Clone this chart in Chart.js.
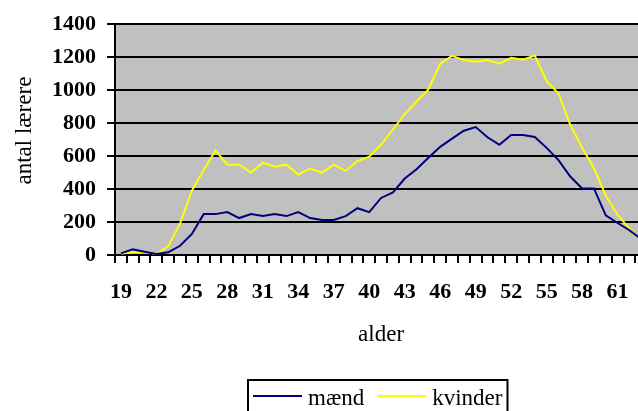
<!DOCTYPE html>
<html>
<head>
<meta charset="utf-8">
<script src="https://cdn.jsdelivr.net/npm/chart.js@4.4.1/dist/chart.umd.min.js"></script>
<style>
  html, body { margin: 0; padding: 0; background: #fff; overflow: hidden; }
  #wrap { width: 660px; height: 411px; }
</style>
</head>
<body>
<div id="wrap"><canvas id="chart"></canvas></div>
<script>
// Aldre (x-akse)
const ages = [19, 20, 21, 22, 23, 24, 25, 26, 27, 28, 29, 30, 31, 32, 33, 34, 35, 36, 37, 38, 39, 40,
    41, 42, 43, 44, 45, 46, 47, 48, 49, 50, 51, 52, 53, 54, 55, 56, 57, 58, 59, 60, 61, 62, 63];

// Antal lærere, mænd
const maend = [10, 34, 20, 6, 16, 56, 128, 248, 248, 260, 224, 248, 236, 248, 236, 260, 224, 212, 212, 236, 284, 260,
    346, 380, 464, 520, 590, 656, 706, 754, 776, 714, 668, 728, 728, 716, 650, 576, 476, 404, 404, 240, 194, 150, 96];

// Antal lærere, kvinder
const kvinder = [8, 18, 20, 6, 54, 190, 390, 516, 634, 548, 548, 500, 560, 536, 548, 488, 524, 500, 548, 510, 570, 596,
    670, 760, 854, 930, 1004, 1160, 1208, 1182, 1172, 1182, 1160, 1196, 1184, 1210, 1054, 980, 790, 650, 526, 360, 244, 160, 90];

const yTicks = [0, 200, 400, 600, 800, 1000, 1200, 1400];
const yTitle = 'antal lærere';

const SERIF = '"Liberation Serif", "Times New Roman", serif';
const TICK = 8;

// grå plotbaggrund
const plotBackground = {
    id: 'plotBackground',
    beforeDatasetsDraw(chart) {
        const { ctx, chartArea: a } = chart;
        ctx.save();
        ctx.globalCompositeOperation = 'destination-over';
        ctx.fillStyle = '#c0c0c0';
        ctx.fillRect(a.left, a.top, a.right - a.left, a.bottom - a.top);
        ctx.restore();
    }
};

// y-aksens titel, lidt over midten som i forlægget
const yAxisTitle = {
    id: 'yAxisTitle',
    afterDraw(chart) {
        const { ctx, chartArea: a } = chart;
        ctx.save();
        ctx.font = '23px ' + SERIF;
        ctx.fillStyle = '#000';
        ctx.textAlign = 'center';
        ctx.textBaseline = 'middle';
        ctx.translate(25, (a.top + a.bottom) / 2 - 9);
        ctx.rotate(-Math.PI / 2);
        ctx.fillText(yTitle, 0, 0);
        ctx.restore();
    }
};

// legende med ramme, under aksetitlen
const boxLegend = {
    id: 'boxLegend',
    afterDraw(chart) {
        const { ctx } = chart;
        const items = chart.data.datasets;
        ctx.save();
        ctx.font = '23px ' + SERIF;
        const lineLen = 49, gapLine = 6, gapItem = 13, pad = 5;
        let total = pad * 2;
        items.forEach((d, i) => {
            total += lineLen + gapLine + ctx.measureText(d.label).width;
            if (i < items.length - 1) total += gapItem;
        });
        const left = 248;
        const top = 380, midY = 396;
        ctx.strokeStyle = '#000';
        ctx.lineWidth = 2;
        ctx.strokeRect(left, top, total, 44);

        let x = left + pad;
        ctx.textBaseline = 'alphabetic';
        ctx.fillStyle = '#000';
        items.forEach(d => {
            ctx.strokeStyle = d.borderColor;
            ctx.lineWidth = 2;
            ctx.beginPath();
            ctx.moveTo(x, midY);
            ctx.lineTo(x + lineLen, midY);
            ctx.stroke();
            x += lineLen + gapLine;
            ctx.fillText(d.label, x, 405);
            x += ctx.measureText(d.label).width + gapItem;
        });
        ctx.restore();
    }
};

new Chart(document.getElementById('chart'), {
    type: 'line',
    data: {
        labels: ages,
        datasets: [
            {
                label: 'mænd',
                data: maend,
                borderColor: '#000080',
                borderWidth: 2,
                pointRadius: 0
            },
            {
                label: 'kvinder',
                data: kvinder,
                borderColor: '#ffff00',
                borderWidth: 2,
                pointRadius: 0
            }
        ]
    },
    options: {
        responsive: true,
        maintainAspectRatio: false,
        animation: false,
        layout: { padding: { top: 21, left: 0, right: 0, bottom: 62 } },
        plugins: {
            legend: { display: false },
            tooltip: { enabled: false }
        },
        scales: {
            x: {
                offset: true,
                grid: {
                    offset: true,
                    drawOnChartArea: false,
                    tickLength: TICK,
                    color: '#000',
                    tickColor: '#000',
                    lineWidth: 2,
                    tickWidth: 2
                },
                border: { color: '#000', width: 2 },
                ticks: {
                    autoSkip: false,
                    maxRotation: 0,
                    padding: 16,
                    color: '#000',
                    font: { family: SERIF, size: 22, weight: 'bold' },
                    callback(v, i) { return i % 3 === 0 ? String(ages[i]) : ' '; }
                },
                title: {
                    display: true,
                    text: 'alder',
                    color: '#000',
                    font: { family: SERIF, size: 23 },
                    padding: { top: 0, bottom: 0 }
                },
                afterFit(scale) { scale.height = 94; }
            },
            y: {
                min: 0,
                max: 1400,
                afterBuildTicks(scale) { scale.ticks = yTicks.map(v => ({ value: v })); },
                grid: {
                    color: '#000',
                    tickColor: '#000',
                    lineWidth: 2,
                    tickWidth: 2,
                    tickLength: TICK
                },
                border: { color: '#000', width: 2 },
                ticks: {
                    padding: 11,
                    color: '#000',
                    font: { family: SERIF, size: 22, weight: 'bold' },
                    callback(v) { return String(v); }
                },
                afterFit(scale) { scale.width = 115; }
            }
        }
    },
    plugins: [plotBackground, yAxisTitle, boxLegend]
});
</script>
</body>
</html>
